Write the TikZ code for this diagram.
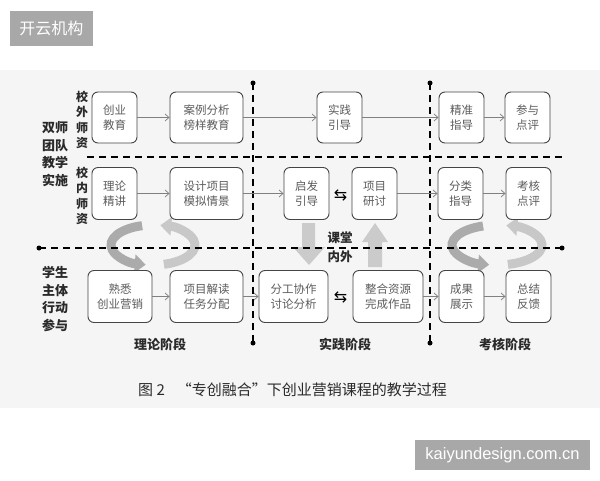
\documentclass[tikz,border=0pt]{standalone}
\usepackage{fontspec}
\setmainfont{Noto Sans CJK SC}
\newfontfamily\djv{DejaVu Sans}
\newfontfamily\lib{Liberation Sans}
\usetikzlibrary{arrows.meta,calc}
\definecolor{bgc}{HTML}{F5F5F5}
\definecolor{boxline}{HTML}{454545}
\definecolor{boxtext}{HTML}{5C5C5C}
\definecolor{lbl}{HTML}{2A2A2A}
\definecolor{arr}{HTML}{808080}
\definecolor{arcA}{HTML}{ABABAB}
\definecolor{arcB}{HTML}{C8C8C8}
\definecolor{bigarr}{HTML}{CBCBCB}
\definecolor{wm}{HTML}{A8A8A8}
\begin{document}
\begin{tikzpicture}[x=1pt,y=-1pt,
  stagebox/.style={draw=boxline, line width=0.9pt, rounded corners=6pt, fill=white,
    minimum height=52pt, inner sep=0pt, align=center, text=boxtext,
    font=\fontsize{11.5}{15}\selectfont},
  flow/.style={draw=arr, line width=0.7pt, -{Straight Barb[length=4pt,width=7pt]}},
  sepline/.style={draw=black, line width=1.4pt, dash pattern=on 7pt off 5pt},
  enddot/.style={circle, fill=black, inner sep=0pt, minimum size=5pt},
  sidelbl/.style={align=center, text=lbl, font=\bfseries\fontsize{13}{17.5}\selectfont},
  collbl/.style={align=center, text=lbl, font=\bfseries\fontsize{12}{15.5}\selectfont},
  phaselbl/.style={text=lbl, font=\bfseries\fontsize{13}{16}\selectfont},
  swap/.style={text=black, font=\djv\fontsize{16}{16}\selectfont, inner sep=0pt},
  ribbonA/.style={draw=arcA, line width=9pt, -{Triangle[length=11pt,width=18pt]}},
  ribbonB/.style={draw=arcB, line width=9pt, -{Triangle[length=11pt,width=18pt]}},
  tagbox/.style={fill=wm, text=white, inner sep=0pt}
]
\useasboundingbox (0,0) rectangle (600,480);
\fill[white] (0,0) rectangle (600,480);
\fill[bgc] (0,70) rectangle (600,408);

% watermark tags
\node[tagbox, minimum width=83pt, minimum height=35pt, font=\fontsize{16}{16}\selectfont] (tag1) at (51.5,28.5) {开云机构};
\node[tagbox, minimum width=175pt, minimum height=30pt, font=\lib\fontsize{16.5}{16.5}\selectfont] (tag2) at (502.5,455) {kaiyundesign.com.cn};

% big gray vertical arrows
\fill[bigarr] (302,223) -- (315,223) -- (315,247) -- (325,247) -- (309,265) -- (293,247) -- (302,247) -- cycle;
\fill[bigarr] (368,267) -- (382,267) -- (382,242) -- (388,242) -- (375,223) -- (362,242) -- (368,242) -- cycle;

% circular ribbons (left pair)
\draw[ribbonA] ($(153,245)+(255:42 and 20)$) arc[start angle=255,end angle=100,x radius=42,y radius=20];
\draw[ribbonB] ($(153,245)+(75:42 and 20)$) arc[start angle=75,end angle=-80,x radius=42,y radius=20];
% circular ribbons (right pair)
\draw[ribbonA] ($(497,245)+(252:45 and 20)$) arc[start angle=252,end angle=100,x radius=45,y radius=20];
\draw[ribbonB] ($(497,245)+(76:45 and 20)$) arc[start angle=76,end angle=-78,x radius=45,y radius=20];

% separator lines
\node[enddot] (vlt) at (253,83) {};
\node[enddot] (vlb) at (253,343) {};
\node[enddot] (vrt) at (430,83) {};
\node[enddot] (vrb) at (430,343) {};
\node[enddot] (hml) at (39,248) {};
\node[enddot] (hmr) at (562,248) {};
\coordinate (htl) at (87,157);
\coordinate (htr) at (562,157);
\draw[sepline] (vlt.center) -- (vlb.center);
\draw[sepline] (vrt.center) -- (vrb.center);
\draw[sepline] (hml.center) -- (hmr.center);
\draw[sepline] (htl) -- (htr);

% side labels
\node[sidelbl] (s1) at (55,154) {双师\\团队\\教学\\实施};
\node[sidelbl] (s2) at (55,299) {学生\\主体\\行动\\参与};
\node[collbl] (c1) at (82,120) {校\\外\\师\\资};
\node[collbl] (c2) at (82,196) {校\\内\\师\\资};

% row 1
\node[stagebox, minimum width=45pt, minimum height=51pt] (a1) at (114.5,117.5) {创业\\教育};
\node[stagebox, minimum width=73pt, minimum height=51pt] (a2) at (206.5,117.5) {案例分析\\榜样教育};
\node[stagebox, minimum width=45pt, minimum height=51pt] (a3) at (339.5,117.5) {实践\\引导};
\node[stagebox, minimum width=45pt, minimum height=51pt] (a4) at (461.5,117.5) {精准\\指导};
\node[stagebox, minimum width=45pt, minimum height=51pt] (a5) at (527.5,117.5) {参与\\点评};
% row 2
\node[stagebox, minimum width=45pt] (b1) at (114.5,193.5) {理论\\精讲};
\node[stagebox, minimum width=73pt] (b2) at (206.5,193.5) {设计项目\\模拟情景};
\node[stagebox, minimum width=45pt] (b3) at (306.5,193.5) {启发\\引导};
\node[stagebox, minimum width=45pt] (b4) at (374.5,193.5) {项目\\研讨};
\node[stagebox, minimum width=45pt] (b5) at (460.5,193.5) {分类\\指导};
\node[stagebox, minimum width=45pt] (b6) at (528.5,193.5) {考核\\点评};
% row 3
\node[stagebox, minimum width=64pt] (d1) at (120,296.5) {熟悉\\创业营销};
\node[stagebox, minimum width=73pt] (d2) at (206.5,296.5) {项目解读\\任务分配};
\node[stagebox, minimum width=69pt] (d3) at (293.5,296.5) {分工协作\\讨论分析};
\node[stagebox, minimum width=70pt] (d4) at (388,296.5) {整合资源\\完成作品};
\node[stagebox, minimum width=45pt] (d5) at (461.5,296.5) {成果\\展示};
\node[stagebox, minimum width=45pt] (d6) at (528.5,296.5) {总结\\反馈};

% flows
\draw[flow] (a1) -- (a2);
\draw[flow] (a2) -- (a3);
\draw[flow] (a3) -- (a4);
\draw[flow] (a4) -- (a5);
\draw[flow] (b1) -- (b2);
\draw[flow] (b2) -- (b3);
\draw[flow] (b4) -- (b5);
\draw[flow] (b5) -- (b6);
\draw[flow] (d1) -- (d2);
\draw[flow] (d2) -- (d3);
\draw[flow] (d4) -- (d5);
\draw[flow] (d5) -- (d6);
\node[swap] (x1) at (340.5,195) {⇆};
\node[swap] (x2) at (340.5,297) {⇆};

% centre label
\node[collbl, font=\bfseries\fontsize{12.5}{19}\selectfont] (kt) at (340,247.5) {课堂\\内外};

% phase labels
\node[phaselbl] (p1) at (160,344) {理论阶段};
\node[phaselbl] (p2) at (345,344) {实践阶段};
\node[phaselbl] (p3) at (505,344) {考核阶段};

% caption
\node[anchor=west, text=lbl, font=\fontsize{15}{15}\selectfont, inner sep=0pt] (cap) at (138,390) {图 2\hspace{12pt}“专创融合”下创业营销课程的教学过程};
\end{tikzpicture}
\end{document}
